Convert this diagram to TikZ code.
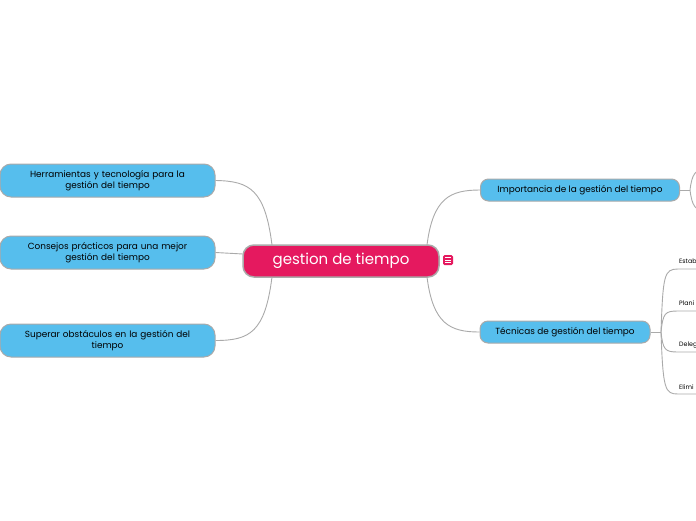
\documentclass[tikz,border=0pt]{standalone}
\usepackage{fontspec}
\setmainfont{Poppins}
\usetikzlibrary{calc}
\definecolor{topicblue}{RGB}{86,190,237}
\definecolor{rootred}{RGB}{229,25,95}
\definecolor{edgegray}{RGB}{170,170,170}
\tikzset{
  topic/.style={draw=edgegray, line width=1pt, fill=topicblue, rounded corners=11pt,
    minimum height=33pt, inner sep=2pt, align=center, font=\fontsize{8.9}{11}\selectfont, text=black},
  rootnode/.style={draw=edgegray, line width=1.5pt, fill=rootred, rounded corners=11pt,
    minimum width=196pt, minimum height=32pt, inner sep=0pt, text=white, font=\fontsize{15}{17}\selectfont},
  conn/.style={draw=edgegray, line width=0.9pt},
  sublabel/.style={inner sep=0pt, anchor=west, font=\fontsize{6.3}{7.5}\selectfont, text=black},
}
\begin{document}
\begin{tikzpicture}[x=1pt,y=-1pt]
\useasboundingbox (0,0) rectangle (696,520);
\fill[white] (0,0) rectangle (696,520);
\clip (0,0) rectangle (696,520);

\coordinate (rt) at (427,245);
\coordinate (rb) at (427,277);
\coordinate (lt) at (272,245);
\coordinate (lm) at (243,254);
\coordinate (lb) at (272,277);

\node[topic, minimum width=215pt, text width=205pt] (h) at (107.5,180.5) {Herramientas y tecnología para la\\gestión del tiempo};
\node[topic, minimum width=215pt, text width=205pt] (k) at (107.5,252.5) {Consejos prácticos para una mejor\\gestión del tiempo};
\node[topic, minimum width=215pt, text width=205pt] (s) at (107.5,340.5) {Superar obstáculos en la gestión del\\tiempo};
\node[topic, minimum width=199pt, minimum height=22pt, rounded corners=8pt] (imp) at (580,190) {Importancia de la gestión del tiempo};
\node[topic, minimum width=170pt, minimum height=22pt, rounded corners=8pt] (tec) at (565,332) {Técnicas de gestión del tiempo};

\draw[conn] (lt) .. controls (265,190) and (250,181) .. (h.east);
\draw[conn] (lm) .. controls (229,254) and (229,252.5) .. (k.east);
\draw[conn] (lb) .. controls (265,332) and (250,340.5) .. (s.east);
\draw[conn] (rt) .. controls (433,198) and (450,190) .. (imp.west);
\draw[conn] (rb) .. controls (433,324) and (450,332) .. (tec.west);

% Importancia sub-bracket
\coordinate (ij) at (690,190);
\draw[conn] (imp.east) -- (ij);
\draw[conn] (ij) .. controls (692,174) and (695,170) .. (706,168);
\draw[conn] (ij) .. controls (692,206) and (695,210) .. (706,212);

% Tecnicas sub-branches
\coordinate (tj) at (661,332);
\draw[conn] (tec.east) -- (tj);
\coordinate (e1) at (700,269);
\coordinate (e2) at (700,311);
\coordinate (e3) at (700,352);
\coordinate (e4) at (700,394);
\draw[conn] (tj) .. controls (663,275) and (664,269) .. (678,269) -- (e1);
\draw[conn] (tj) .. controls (663,313) and (665,311) .. (678,311) -- (e2);
\draw[conn] (tj) .. controls (663,350) and (665,352) .. (678,352) -- (e3);
\draw[conn] (tj) .. controls (663,390) and (665,394) .. (678,394) -- (e4);
\node[sublabel] (l1) at (679,261.5) {Estab};
\node[sublabel] (l2) at (679,303.5) {Plani};
\node[sublabel] (l3) at (679,345.5) {Deleg};
\node[sublabel] (l4) at (679,387) {Elimi};

% root
\node[rootnode] (root) at (341,261) {gestion de tiempo};

% note icon
\node[fill=rootred, rounded corners=1.5pt, minimum width=10pt, minimum height=10pt, inner sep=0pt] (icon) at (448,260) {};
\draw[white, line width=0.9pt] ($(icon.center)+(-2.8,-2.5)$) -- ++(5.6,0)
  ($(icon.center)+(-2.8,0)$) -- ++(5.6,0)
  ($(icon.center)+(-2.8,2.5)$) -- ++(5.6,0);
\end{tikzpicture}
\end{document}
